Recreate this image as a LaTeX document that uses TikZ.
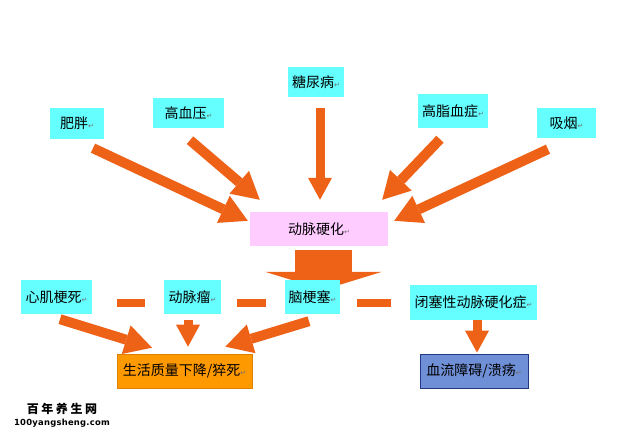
\documentclass[tikz,border=0pt]{standalone}
\usepackage{fontspec}
\usetikzlibrary{arrows.meta,calc,backgrounds}
\newfontfamily\cjk{Noto Sans CJK SC}
\newfontfamily\djv{DejaVu Sans}
\newfontfamily\urlfont[LetterSpace=3]{DejaVu Sans}
\definecolor{boxcyan}{HTML}{66FFFF}
\definecolor{boxpink}{HTML}{FFCCFF}
\definecolor{arroworange}{HTML}{EE6218}
\definecolor{boxorange}{HTML}{FF9900}
\definecolor{boxorangeline}{HTML}{E08000}
\definecolor{boxblue}{HTML}{6F8FD6}
\definecolor{boxblueline}{HTML}{1F3A80}
\definecolor{retgray}{HTML}{707070}
\newcommand\retmark{{\djv\fontsize{7}{7}\selectfont\color{retgray}↵}}
\tikzset{
  box/.style={inner sep=0pt, font=\cjk\fontsize{14}{15}\selectfont, text=black},
  cyanbox/.style={box, fill=boxcyan},
  pinkbox/.style={box, fill=boxpink},
  orangebox/.style={box, fill=boxorange, draw=boxorangeline, line width=0.6pt},
  bluebox/.style={box, fill=boxblue, draw=boxblueline, line width=0.8pt},
  diagarrow/.style={draw=arroworange, line width=10pt, -{Triangle[length=27pt,width=30pt,line width=0pt]}},
  vertarrow/.style={draw=arroworange, line width=9pt, -{Triangle[length=22pt,width=24pt,line width=0pt]}},
  bigarrow/.style={draw=arroworange, line width=57pt, -{Triangle[length=18pt,width=117pt,line width=0pt]}},
  dashbar/.style={draw=arroworange, line width=8pt},
}
\begin{document}
\begin{tikzpicture}[x=1pt,y=-1pt]
\useasboundingbox (0,0) rectangle (638,436);
% top causes
\node[cyanbox, minimum width=54pt, minimum height=31pt] (fp) at (77,123.5) {肥胖\retmark};
\node[cyanbox, minimum width=71pt, minimum height=30pt] (gxy) at (188.5,113) {高血压\retmark};
\node[cyanbox, minimum width=56pt, minimum height=30pt] (tnb) at (316,82) {糖尿病\retmark};
\node[cyanbox, minimum width=70pt, minimum height=34pt] (gzxz) at (453,111) {高脂血症\retmark};
\node[cyanbox, minimum width=59pt, minimum height=30pt] (xy) at (566.5,123) {吸烟\retmark};
% centre
\node[pinkbox, minimum width=138pt, minimum height=34pt] (yh) at (319,229) {动脉硬化\retmark};
% consequences
\node[cyanbox, minimum width=71pt, minimum height=34pt] (xjgs) at (56.5,297) {心肌梗死\retmark};
\node[cyanbox, minimum width=57pt, minimum height=34pt] (dml) at (192.5,297) {动脉瘤\retmark};
\node[cyanbox, minimum width=55pt, minimum height=34pt] (ngs) at (312.5,297) {脑梗塞\retmark};
\node[cyanbox, minimum width=127pt, minimum height=35pt] (bsx) at (473.5,302.5) {闭塞性动脉硬化症\retmark};
\node[orangebox, minimum width=135pt, minimum height=34pt] (sh) at (184.5,371) {生活质量下降/猝死\retmark};
\node[bluebox, minimum width=108pt, minimum height=34pt] (xl) at (474,371) {血流障碍/溃疡\retmark};
% watermark
\node[inner sep=0pt, font=\cjk\bfseries\fontsize{12}{12}\selectfont] (wm1) at (62,409) {百\hspace{2.6pt}年\hspace{2.6pt}养\hspace{2.6pt}生\hspace{2.6pt}网};
\node[inner sep=0pt, font=\urlfont\bfseries\fontsize{8.4}{9}\selectfont, anchor=base] (wm2) at (62,425.5) {100yangsheng.com};
\begin{scope}[on background layer]
  \draw[diagarrow] ($(fp.south)+(16,9)$) -- ($(yh.north west)+(-2,9)$);
  \draw[diagarrow] ($(gxy.south)+(1.5,12)$) -- ($(yh.north west)+(10,-12)$);
  \draw[vertarrow] ($(tnb.south)+(4,11)$) -- ($(yh.north)+(1,-12)$);
  \draw[diagarrow] ($(gzxz.south)+(-13,11)$) -- ($(yh.north east)+(-6,-12)$);
  \draw[diagarrow] ($(xy.south)+(-18.5,11)$) -- ($(yh.north east)+(6,9)$);
  \draw[bigarrow] ($(yh.south)+(4.5,4)$) -- ($(ngs.north)+(11,10)$);
  \draw[diagarrow] ($(xjgs.south)+(3.5,5)$) -- ($(sh.north)+(-32.5,-6)$);
  \draw[vertarrow] ($(dml.south)+(-4.5,6)$) -- ($(sh.north)+(3.5,-7)$);
  \draw[diagarrow] ($(ngs.south)+(-3.5,7)$) -- ($(sh.north east)+(-27,-7)$);
  \draw[vertarrow] ($(bsx.south)+(3.5,0)$) -- ($(xl.north)+(3,-1)$);
  \draw[dashbar] ($(xjgs.east)+(25,6)$) -- ($(dml.west)+(-19,6)$);
  \draw[dashbar] ($(dml.east)+(16,6)$) -- ($(ngs.west)+(-19,6)$);
  \draw[dashbar] ($(ngs.east)+(17,6)$) -- ($(bsx.west)+(-19,0.5)$);
\end{scope}
\end{tikzpicture}
\end{document}
